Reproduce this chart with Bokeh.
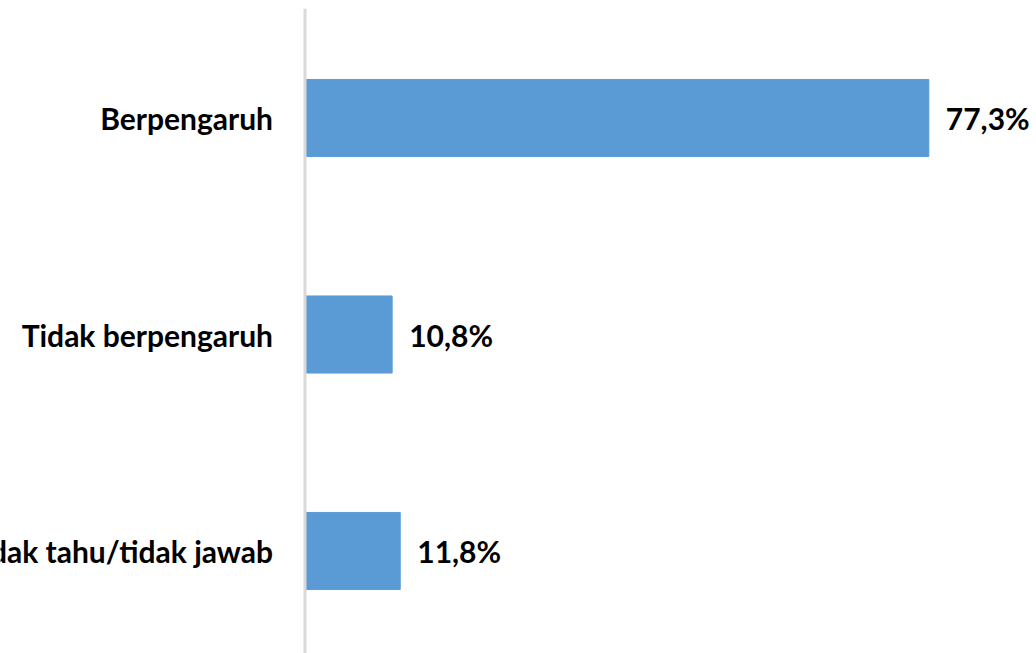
from bokeh.plotting import figure
from bokeh.models import ColumnDataSource, Range1d, Span
from bokeh.core.properties import value
from bokeh.embed import file_html
from bokeh.resources import INLINE

categories = ["Berpengaruh", "Tidak berpengaruh", "Tidak tahu/tidak jawab"]
values = [77.3, 10.8, 11.8]
value_labels = ["77,3%", "10,8%", "11,8%"]

n = len(categories)
ypos = [n - 1 - i for i in range(n)]
src = ColumnDataSource(dict(y=ypos, v=values, cat=categories, lab=value_labels,
                            zero=[0] * n))

W, H = 1036, 653
TOP = 8
px_per_unit = 8.07
x_start = -304.5 / px_per_unit
x_end = x_start + W / px_per_unit
ypx = 216.5
y_top = (n - 1) + (117.5 - TOP) / ypx
y_bot = -(H - 550.5) / ypx

p = figure(width=W, height=H, output_backend="svg", toolbar_location=None,
           x_range=Range1d(x_start, x_end), y_range=Range1d(y_bot, y_top),
           min_border=0, min_border_top=TOP, outline_line_color=None)
p.xaxis.visible = False
p.yaxis.visible = False
p.xgrid.visible = False
p.ygrid.visible = False
p.background_fill_color = "white"
p.border_fill_color = "white"

p.hbar(y="y", right="v", left=0, height=0.356, source=src,
       fill_color="#5B9BD5", line_color="#5B9BD5")
p.add_layout(Span(location=0, dimension="height", line_color="#d9d9d9", line_width=3))

font = value("Lato")
p.text(x="zero", y="y", text="cat", source=src, x_offset=-32, text_align="right",
       text_baseline="middle", text_font=font, text_font_style="bold",
       text_font_size="30px", text_color="#000000")
p.text(x="v", y="y", text="lab", source=src, x_offset=17, text_align="left",
       text_baseline="middle", text_font=font, text_font_style="bold",
       text_font_size="30px", text_color="#000000")

open("out.html", "w").write(file_html(p, INLINE))
